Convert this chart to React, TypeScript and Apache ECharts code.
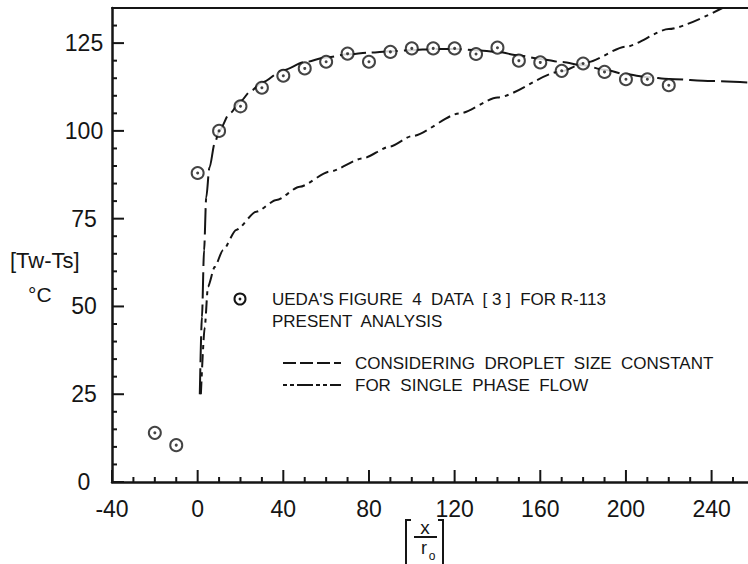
import React, { useEffect, useRef } from "react";
import * as echarts from "echarts";

// Ueda's Figure 4 data [3] for R-113 (x/r0, Tw-Ts in °C)
const dataX = [-20, -10, 0, 10, 20, 30, 40, 50, 60, 70, 80, 90, 100, 110, 120, 130, 140, 150, 160, 170, 180, 190, 200, 210, 220];
const dataY = [14, 10.5, 88, 100, 107, 112.3, 115.7, 117.8, 119.7, 122, 119.7, 122.5, 123.5, 123.5, 123.5, 121.9, 123.7, 120, 119.5, 117.1, 119.2, 116.8, 114.7, 114.7, 113];

// Present analysis: considering droplet size constant
const dropX = [1, 2, 3, 4, 5.5, 8, 10, 15, 20, 25, 30, 40, 50, 60, 70, 80, 90, 100, 110, 120, 130, 140, 150, 160, 170, 180, 190, 200, 210, 220, 240, 257];
const dropY = [25, 47, 66, 81, 89.5, 96.5, 100, 105, 108.5, 111.5, 113.8, 117.3, 119.6, 120.9, 121.8, 122.3, 122.7, 123, 123.3, 123.3, 123, 122.5, 121.5, 120.5, 119.6, 118.7, 117.4, 116.1, 115.3, 114.8, 114.2, 113.8];

// Present analysis: for single phase flow
const singleX = [1.5, 3.3, 4.8, 8, 11.8, 18, 27.4, 36.8, 47.7, 61.7, 77.2, 89.7, 100, 122.4, 140, 169, 181.6, 200, 220, 245];
const singleY = [25, 44, 55.6, 61.3, 66, 71.8, 77, 80.3, 84.1, 88.4, 92.2, 95.5, 98.5, 105, 109.5, 116.8, 119.5, 124, 129, 135];

// Tick values (labelled majors and minor tick positions)
const xTicks = [-40, 0, 40, 80, 120, 160, 200, 240];
const xMinorTicks = [-30, -20, -10, 10, 20, 30, 50, 60, 70, 90, 100, 110, 130, 140, 150, 170, 180, 190, 210, 220, 230, 250];
const yTicks = [0, 25, 50, 75, 100, 125];
const yMinorTicks = [5, 10, 15, 20, 30, 35, 40, 45, 55, 60, 65, 70, 80, 85, 90, 95, 105, 110, 115, 120, 130];

const X_MIN = -40;
const X_MAX = 257;
const Y_MIN = 0;
const Y_MAX = 135;

const INK = "#151515";
const FONT = "'Liberation Sans', Arial, sans-serif";

const GRID = { left: 112, right: 0, top: 8, bottom: 82 };
const W = 748;
const H = 564;

export default function App() {
  const ref = useRef<HTMLDivElement>(null);

  useEffect(() => {
    if (!ref.current) return;
    const chart = echarts.init(ref.current, null, { renderer: "svg" });

    const zip = (xs: number[], ys: number[]) => xs.map((x, i) => [x, ys[i]]);
    const lineStyle = { color: INK, width: 2.5 };

    // pixel-per-unit of the plot area, used to express tick lengths in data units
    const pxPerX = (W - GRID.left - GRID.right) / (X_MAX - X_MIN);
    const pxPerY = (H - GRID.top - GRID.bottom) / (Y_MAX - Y_MIN);

    const tickLine = (pts: number[][]) => ({
      type: "line",
      silent: true,
      data: pts,
      showSymbol: false,
      symbol: "none",
      lineStyle: { color: INK, width: 2, type: "solid" },
      z: 2,
    });
    const tickSeries: any[] = [];
    xTicks.forEach((v) => tickSeries.push(tickLine([[v, Y_MIN], [v, Y_MIN + 12 / pxPerY]])));
    xMinorTicks.forEach((v) => tickSeries.push(tickLine([[v, Y_MIN], [v, Y_MIN + 5 / pxPerY]])));
    yTicks.forEach((v) => tickSeries.push(tickLine([[X_MIN, v], [X_MIN + 12 / pxPerX, v]])));
    yMinorTicks.forEach((v) => tickSeries.push(tickLine([[X_MIN, v], [X_MIN + 5 / pxPerX, v]])));

    const option: any = {
      animation: false,
      backgroundColor: "#ffffff",
      grid: { ...GRID, containLabel: false },
      xAxis: [
        {
          type: "value",
          position: "bottom",
          min: X_MIN,
          max: X_MAX,
          interval: 40,
          axisLine: { show: true, onZero: false, lineStyle },
          axisTick: { show: false },
          axisLabel: { show: true, customValues: xTicks, margin: 15, fontSize: 23, color: INK, fontFamily: FONT },
          splitLine: { show: false },
        },
        {
          type: "value",
          position: "top",
          min: X_MIN,
          max: X_MAX,
          axisLine: { show: true, onZero: false, lineStyle: { color: INK, width: 2 } },
          axisTick: { show: false },
          axisLabel: { show: false },
          splitLine: { show: false },
        },
      ],
      yAxis: [
        {
          type: "value",
          position: "left",
          min: Y_MIN,
          max: Y_MAX,
          interval: 25,
          axisLine: { show: true, onZero: false, lineStyle },
          axisTick: { show: false },
          axisLabel: { show: true, customValues: yTicks, margin: 28, align: "center", fontSize: 23, color: INK, fontFamily: FONT },
          splitLine: { show: false },
        },
      ],
      series: [
        ...tickSeries,
        {
          name: "CONSIDERING DROPLET SIZE CONSTANT",
          type: "line",
          data: zip(dropX, dropY),
          showSymbol: false,
          smooth: 0.3,
          smoothMonotone: "x",
          lineStyle: { color: INK, width: 2, type: [26, 6] },
          z: 3,
        },
        {
          name: "FOR SINGLE PHASE FLOW",
          type: "line",
          data: zip(singleX, singleY),
          showSymbol: false,
          smooth: 0.25,
          smoothMonotone: "x",
          lineStyle: { color: INK, width: 2, type: [13, 5, 4, 5] },
          z: 3,
        },
        {
          name: "UEDA'S FIGURE 4 DATA [3] FOR R-113",
          type: "scatter",
          data: zip(dataX, dataY),
          symbol: "circle",
          symbolSize: 12,
          itemStyle: { color: "#ffffff", borderColor: INK, borderWidth: 2 },
          z: 4,
        },
        {
          name: "centre dots",
          type: "scatter",
          data: zip(dataX, dataY),
          symbol: "circle",
          symbolSize: 3,
          itemStyle: { color: INK },
          z: 5,
        },
      ],
      graphic: [
        // y-axis title
        { type: "text", left: 10, top: 249, style: { text: "[Tw-Ts]", font: `22px ${FONT}`, fill: INK } },
        { type: "text", left: 28, top: 284, style: { text: "°C", font: `21px ${FONT}`, fill: INK } },
        // x-axis title [ x / r0 ]
        { type: "polyline", shape: { points: [[411, 520], [406, 520], [406, 566], [411, 566]] }, style: { stroke: INK, lineWidth: 2, fill: null } },
        { type: "polyline", shape: { points: [[438, 520], [443, 520], [443, 566], [438, 566]] }, style: { stroke: INK, lineWidth: 2, fill: null } },
        { type: "text", x: 425, y: 527, style: { text: "x", font: `19px ${FONT}`, fill: INK, align: "center", verticalAlign: "middle" } },
        { type: "line", shape: { x1: 414, y1: 537, x2: 437, y2: 537 }, style: { stroke: INK, lineWidth: 2 } },
        { type: "text", x: 424, y: 548, style: { text: "r", font: `18px ${FONT}`, fill: INK, align: "center", verticalAlign: "middle" } },
        { type: "text", x: 432, y: 556, style: { text: "o", font: `12px ${FONT}`, fill: INK, align: "center", verticalAlign: "middle" } },
        // legend
        { type: "circle", shape: { cx: 240, cy: 299, r: 5.5 }, style: { fill: "#fff", stroke: INK, lineWidth: 2 } },
        { type: "circle", shape: { cx: 240, cy: 299, r: 1.4 }, style: { fill: INK } },
        { type: "text", x: 272, y: 299, style: { text: "UEDA'S FIGURE  4  DATA  [ 3 ]  FOR R-113", font: `17px ${FONT}`, fill: INK, verticalAlign: "middle" } },
        { type: "text", x: 272, y: 321, style: { text: "PRESENT  ANALYSIS", font: `17px ${FONT}`, fill: INK, verticalAlign: "middle" } },
        { type: "line", shape: { x1: 283, y1: 363, x2: 341, y2: 363 }, style: { stroke: INK, lineWidth: 2, lineDash: [13, 4] } },
        { type: "text", x: 355, y: 363, style: { text: "CONSIDERING  DROPLET  SIZE  CONSTANT", font: `17px ${FONT}`, fill: INK, verticalAlign: "middle" } },
        { type: "line", shape: { x1: 283, y1: 385, x2: 341, y2: 385 }, style: { stroke: INK, lineWidth: 2, lineDash: [4, 3, 4, 3, 16, 3] } },
        { type: "text", x: 355, y: 385, style: { text: "FOR  SINGLE  PHASE  FLOW", font: `17px ${FONT}`, fill: INK, verticalAlign: "middle" } },
      ],
    };

    chart.setOption(option);
    return () => chart.dispose();
  }, []);

  return (
    <div
      ref={ref}
      style={{ position: "fixed", left: 0, top: 0, width: W, height: H, background: "#fff" }}
    />
  );
}
